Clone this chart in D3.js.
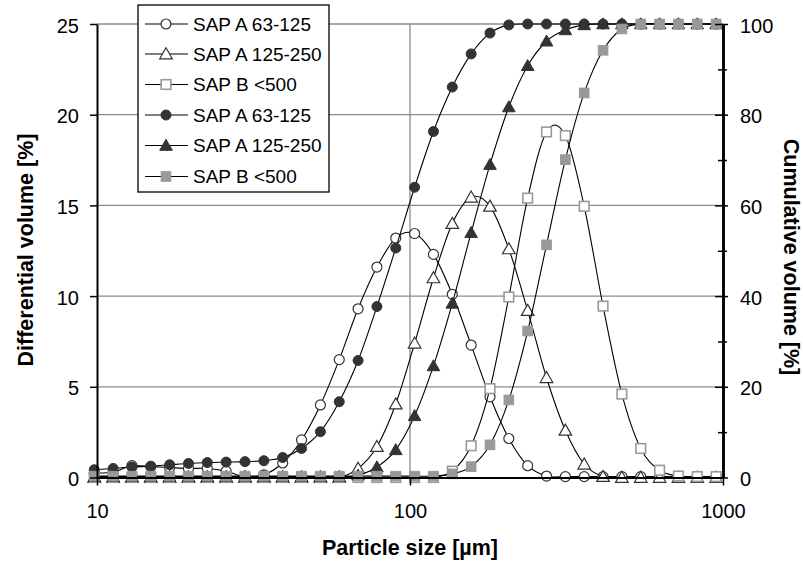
<!DOCTYPE html>
<html>
<head>
<meta charset="utf-8">
<script src="https://cdn.jsdelivr.net/npm/d3@7"></script>
<style>
  html, body { margin: 0; padding: 0; background: #fff; }
  svg { display: block; font-family: "Liberation Sans", Arial, sans-serif; }
</style>
</head>
<body>
<svg id="chart" width="803" height="565"></svg>
<script>
// Particle size classes [µm] (geometric progression, ratio 2^(1/5))
const sizes = [9.8, 11.26, 12.93, 14.85, 17.06, 19.6, 22.51, 25.86, 29.71, 34.13,
  39.2, 45.03, 51.73, 59.42, 68.25, 78.4, 90.06, 103.45, 118.83, 136.5,
  156.8, 180.12, 206.9, 237.66, 273.01, 313.6, 360.23, 413.8, 475.33, 546.01,
  627.2, 720.46, 827.6, 950.66];

// Differential volume [%] (left axis)
const diffA63 = [0.25, 0.3, 0.65, 0.6, 0.55, 0.5, 0.5, 0.35, 0.05, 0.15,
  0.8, 2.07, 4.0, 6.5, 9.3, 11.6, 13.2, 13.45, 12.3, 10.1,
  7.3, 4.45, 2.15, 0.65, 0.08, 0.05, 0.05, 0.05, 0.05, 0.05,
  0.05, 0.05, 0.05, 0.05];
const diffA125 = [0, 0, 0, 0, 0, 0, 0, 0, 0, 0,
  0, 0, 0, 0, 0.5, 1.7, 4.05, 7.4, 11.0, 14.0,
  15.45, 14.95, 12.6, 9.2, 5.5, 2.6, 0.73, 0.05, 0, 0,
  0, 0, 0, 0];
const diffB500 = [0, 0, 0, 0, 0, 0, 0, 0, 0, 0,
  0, 0, 0, 0, 0, 0, 0, 0, 0, 0.35,
  1.75, 4.9, 9.95, 15.4, 19.05, 18.85, 14.95, 9.45, 4.6, 1.6,
  0.4, 0.08, 0.05, 0.05];

// Cumulative volume [%] (right axis)
const cumA63 = [1.7, 2.0, 2.3, 2.5, 2.8, 3.1, 3.3, 3.4, 3.5, 3.7,
  4.4, 6.4, 10.1, 16.7, 25.8, 37.7, 50.6, 64.0, 76.3, 86.1,
  93.4, 98.0, 99.8, 100, 100, 100, 100, 100, 100, 100,
  100, 100, 100, 100];
const cumA125 = [0.2, 0.2, 0.2, 0.2, 0.2, 0.2, 0.2, 0.2, 0.2, 0.2,
  0.2, 0.2, 0.2, 0.2, 0.5, 2.3, 6.1, 13.6, 24.6, 38.4,
  54.0, 69.0, 81.7, 90.8, 96.2, 98.7, 99.8, 100, 100, 100,
  100, 100, 100, 100];
const cumB500 = [0.3, 0.3, 0.3, 0.3, 0.3, 0.3, 0.3, 0.3, 0.3, 0.3,
  0.3, 0.3, 0.3, 0.3, 0.3, 0.3, 0.3, 0.3, 0.3, 0.8,
  2.4, 7.2, 17.1, 32.3, 51.3, 70.1, 84.8, 94.2, 98.9, 100,
  100, 100, 100, 100];

const seriesNames = ["SAP A 63-125", "SAP A 125-250", "SAP B <500",
                     "SAP A 63-125", "SAP A 125-250", "SAP B <500"];
const xTicks = [10, 100, 1000];
const yLeftTicks = [0, 5, 10, 15, 20, 25];
const yRightTicks = [0, 20, 40, 60, 80, 100];
const yRightMinor = [10, 30, 50, 70, 90];

const svg = d3.select("#chart");
const plot = { left: 97, right: 723, top: 24, bottom: 477.5 };

const x = d3.scaleLog().domain([10, 1000]).range([plot.left, plot.right]);
const yL = d3.scaleLinear().domain([0, 25]).range([plot.bottom, plot.top]);
const yR = d3.scaleLinear().domain([0, 100]).range([plot.bottom, plot.top]);

// Gridlines
const grid = svg.append("g").attr("stroke", "#8c8c8c").attr("stroke-width", 1.3);
yLeftTicks.filter(d => d > 0).forEach(v => {
  grid.append("line").attr("x1", plot.left).attr("x2", plot.right)
    .attr("y1", yL(v)).attr("y2", yL(v));
});
[100].forEach(v => {
  grid.append("line").attr("x1", x(v)).attr("x2", x(v))
    .attr("y1", plot.top).attr("y2", plot.bottom);
});

// Marker shapes
const markers = {
  circle: g => g.append("circle").attr("r", 5),
  triangle: g => g.append("path").attr("d", "M0,-6.2L6.3,4.8L-6.3,4.8Z"),
  square: g => g.append("rect").attr("x", -4.8).attr("y", -4.8).attr("width", 9.6).attr("height", 9.6)
};
const styles = [
  { shape: "circle",   fill: "#ffffff", stroke: "#333333", sw: 1.2 },
  { shape: "triangle", fill: "#ffffff", stroke: "#333333", sw: 1.2 },
  { shape: "square",   fill: "#ffffff", stroke: "#9a9a9a", sw: 1.6 },
  { shape: "circle",   fill: "#333333", stroke: "#333333", sw: 1 },
  { shape: "triangle", fill: "#333333", stroke: "#333333", sw: 1 },
  { shape: "square",   fill: "#999999", stroke: "#999999", sw: 1 }
];

const seriesData = [
  { values: diffA63, y: yL }, { values: diffA125, y: yL }, { values: diffB500, y: yL },
  { values: cumA63, y: yR }, { values: cumA125, y: yR }, { values: cumB500, y: yR }
];

const line = d3.line().curve(d3.curveCatmullRom.alpha(0));

seriesData.forEach((s, i) => {
  const st = styles[i];
  const pts = sizes.map((d, k) => [x(d), s.y(s.values[k])]);
  const g = svg.append("g");
  g.append("path").attr("d", line(pts)).attr("fill", "none")
    .attr("stroke", "#000").attr("stroke-width", 1.1);
  pts.forEach(p => {
    const m = g.append("g").attr("transform", `translate(${p[0]},${p[1]})`);
    markers[st.shape](m).attr("fill", st.fill).attr("stroke", st.stroke).attr("stroke-width", st.sw);
  });
});

// Axes
const tickFont = g => g.selectAll("text").attr("font-size", 20).attr("fill", "#000")
  .attr("font-family", "'Liberation Sans', Arial, sans-serif");
const axisStyle = g => {
  g.select(".domain").attr("stroke", "#000").attr("stroke-width", 2);
  g.selectAll(".tick line").attr("stroke", "#000").attr("stroke-width", 1.5);
};

const axL = svg.append("g").attr("transform", `translate(${plot.left},0)`)
  .call(d3.axisLeft(yL).tickValues(yLeftTicks).tickSize(7).tickSizeOuter(0).tickPadding(11));
axisStyle(axL); tickFont(axL);
axL.selectAll("text").attr("dy", "0.4em");

// Right axis: major ticks cross the line, minor ticks too
const axRin = svg.append("g").attr("transform", `translate(${plot.right},0)`)
  .call(d3.axisLeft(yR).tickValues(yRightTicks).tickSize(8).tickSizeOuter(0).tickFormat(""));
axisStyle(axRin);
const axRmin = svg.append("g").attr("transform", `translate(${plot.right},0)`)
  .call(d3.axisLeft(yR).tickValues(yRightMinor).tickSize(5).tickSizeOuter(0).tickFormat(""));
axisStyle(axRmin);
const axRminOut = svg.append("g").attr("transform", `translate(${plot.right},0)`)
  .call(d3.axisRight(yR).tickValues(yRightMinor).tickSize(4).tickSizeOuter(0).tickFormat(""));
axisStyle(axRminOut);
const axR = svg.append("g").attr("transform", `translate(${plot.right},0)`)
  .call(d3.axisRight(yR).tickValues(yRightTicks).tickSize(5).tickSizeOuter(0).tickPadding(12));
axisStyle(axR); tickFont(axR);
axR.selectAll("text").attr("dy", "0.4em");

const axB = svg.append("g").attr("transform", `translate(0,${plot.bottom})`)
  .call(d3.axisBottom(x).tickValues(xTicks).tickFormat(d3.format("d")).tickSize(8).tickSizeOuter(0).tickPadding(18));
axisStyle(axB); tickFont(axB);

// Axis titles
const titleFont = "'Liberation Sans', Arial, sans-serif";
svg.append("text").attr("x", 410).attr("y", 555).attr("text-anchor", "middle")
  .attr("font-size", 21.5).attr("font-weight", "bold").attr("font-family", titleFont)
  .text("Particle size [µm]");
svg.append("text").attr("transform", "translate(33,250) rotate(-90)").attr("text-anchor", "middle")
  .attr("font-size", 21.5).attr("font-weight", "bold").attr("font-family", titleFont)
  .text("Differential volume [%]");
svg.append("text").attr("transform", "translate(784,257) rotate(90)").attr("text-anchor", "middle")
  .attr("font-size", 21.5).attr("font-weight", "bold").attr("font-family", titleFont)
  .text("Cumulative volume [%]");

// Legend
const lg = svg.append("g");
lg.append("rect").attr("x", 138).attr("y", 5).attr("width", 191).attr("height", 187)
  .attr("fill", "#fff").attr("stroke", "#000").attr("stroke-width", 1.3);
const rowY = [24, 54, 84.5, 115, 145.5, 176.5];
seriesNames.forEach((name, i) => {
  const st = styles[i];
  const ry = rowY[i];
  lg.append("line").attr("x1", 145).attr("x2", 188).attr("y1", ry).attr("y2", ry)
    .attr("stroke", "#000").attr("stroke-width", 1.1);
  const m = lg.append("g").attr("transform", `translate(166,${ry})`);
  markers[st.shape](m).attr("fill", st.fill).attr("stroke", st.stroke).attr("stroke-width", st.sw);
  lg.append("text").attr("x", 193).attr("y", ry).attr("dy", "0.36em")
    .attr("font-size", 19).attr("font-family", titleFont).text(name);
});
</script>
</body>
</html>
